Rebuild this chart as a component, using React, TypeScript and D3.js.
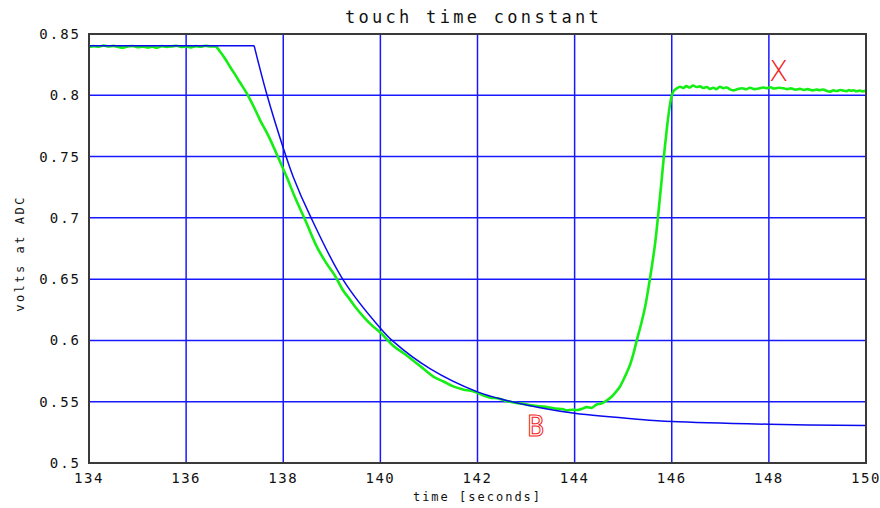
import React from 'react';
import * as d3 from 'd3';

// tick values / labels
const xTicks = [134, 136, 138, 140, 142, 144, 146, 148, 150];
const yTicks = [0.5, 0.55, 0.6, 0.65, 0.7, 0.75, 0.8, 0.85];
const yTickLabels = ['0.5', '0.55', '0.6', '0.65', '0.7', '0.75', '0.8', '0.85'];

const measTime = [
  134.0, 134.1, 134.2, 134.3, 134.4, 134.5, 134.6, 134.7, 134.8, 134.9, 135.0, 135.1,
  135.2, 135.3, 135.4, 135.5, 135.6, 135.7, 135.8, 135.9, 136.0, 136.1, 136.2, 136.3,
  136.4, 136.5, 136.6, 136.7, 136.8, 136.9, 137.0, 137.1, 137.25, 137.4, 137.52, 137.7,
  137.86, 138.07, 138.25, 138.45, 138.69, 138.88, 139.07, 139.22, 139.37, 139.5, 139.65,
  139.82, 140.0, 140.27, 140.48, 140.68, 140.9, 141.09, 141.3, 141.5, 141.7, 141.91, 142.1,
  142.25, 142.45, 142.6, 142.8, 142.95, 143.1, 143.29, 143.45, 143.6, 143.75, 143.84, 143.95,
  144.05, 144.15, 144.25, 144.35, 144.45, 144.55, 144.66, 144.76, 144.85, 144.93, 145.0,
  145.07, 145.14, 145.21, 145.28, 145.36, 145.45, 145.5, 145.55, 145.6, 145.66, 145.72,
  145.79, 145.84, 145.9, 145.97, 146.03, 146.1, 146.17, 146.24, 146.3, 146.37, 146.44,
  146.51, 146.58, 146.65, 146.72, 146.79, 146.85, 146.92, 146.99, 147.06, 147.13, 147.2,
  147.27, 147.36, 147.45, 147.53, 147.61, 147.7, 147.8, 147.88, 147.95, 148.03, 148.1,
  148.2, 148.3, 148.38, 148.45, 148.55, 148.64, 148.72, 148.8, 148.9, 148.98, 149.05,
  149.12, 149.19, 149.26, 149.33, 149.4, 149.47, 149.53, 149.6, 149.65, 149.7, 149.74,
  149.8, 149.87, 149.93, 150.0,
];
const measVolts = [
  0.8393, 0.8401, 0.8396, 0.8406, 0.8398, 0.8403, 0.8395, 0.8389, 0.8399, 0.8402, 0.8392, 0.8397,
  0.8390, 0.8396, 0.8388, 0.8401, 0.8395, 0.8399, 0.8404, 0.8394, 0.8398, 0.8391, 0.8401, 0.8396,
  0.8404, 0.8398, 0.8399, 0.8355, 0.830, 0.8235, 0.8175, 0.811, 0.8015, 0.790, 0.780, 0.7665,
  0.7525, 0.7335, 0.716, 0.6985, 0.6765, 0.6635, 0.6525, 0.6415, 0.6335, 0.6265, 0.6195,
  0.6125, 0.6065, 0.5955, 0.5895, 0.5835, 0.5765, 0.5705, 0.5665, 0.5625, 0.5600, 0.5585, 0.5555,
  0.5535, 0.5525, 0.5505, 0.5490, 0.5482, 0.5470, 0.5462, 0.5455, 0.5445, 0.5440, 0.5430, 0.5435,
  0.5432, 0.5442, 0.5456, 0.5450, 0.5478, 0.5485, 0.5510, 0.5540, 0.5580, 0.5620, 0.5675,
  0.5735, 0.5800, 0.5890, 0.6000, 0.6120, 0.6270, 0.6380, 0.6500, 0.6630, 0.6800, 0.7020,
  0.7300, 0.7510, 0.7730, 0.7940, 0.8030, 0.8055, 0.8070, 0.8060, 0.8075, 0.8063, 0.8080,
  0.8068, 0.8073, 0.8060, 0.8068, 0.8052, 0.8062, 0.8050, 0.8070, 0.8058, 0.8064, 0.8048,
  0.8040, 0.8052, 0.8058, 0.8049, 0.8062, 0.8050, 0.8056, 0.8064, 0.8058, 0.8066, 0.8055,
  0.8061, 0.8058, 0.8050, 0.8056, 0.8046, 0.8052, 0.8044, 0.8050, 0.8040, 0.8046, 0.8042,
  0.8047, 0.8036, 0.8030, 0.8040, 0.8035, 0.8043, 0.8038, 0.8034, 0.8042, 0.8037, 0.8041,
  0.8033, 0.8038, 0.8032, 0.8036,
];

// fitted model (blue): flat part, then decay
const modelFlatTime = [134, 137.4];
const modelFlatVolts = [0.8405, 0.8405];
const modelDecayTime = [137.4, 137.66, 138.0, 138.21, 138.55, 139.24, 140.0, 140.27, 141.02, 142.0, 142.6, 143.29, 144.0, 145.35, 146.0, 148.0, 150.0];
const modelDecayVolts = [0.8405, 0.801, 0.757, 0.733, 0.702, 0.649, 0.610, 0.599, 0.577, 0.558, 0.551, 0.545, 0.5405, 0.5355, 0.5338, 0.5316, 0.5305];

// text marks on the plot
const marks = ['B', 'X'];
const markTime = [143.2, 148.2];
const markVolts = [0.53, 0.82];

const W = 880;
const H = 508;
const margin = { top: 34, right: 14, bottom: 45, left: 89 };
const mono = '"DejaVu Sans Mono", monospace';

export default function App() {
  const x = d3.scaleLinear().domain([134, 150]).range([margin.left, W - margin.right]);
  const y = d3.scaleLinear().domain([0.5, 0.85]).range([H - margin.bottom, margin.top]);

  const pts = (t: number[], v: number[]) => t.map((d, i) => [d, v[i]] as [number, number]);
  const lin = d3.line<[number, number]>().x(d => x(d[0])).y(d => y(d[1]));
  const smooth = d3.line<[number, number]>().x(d => x(d[0])).y(d => y(d[1])).curve(d3.curveCatmullRom.alpha(0.5));
  const wiggly = d3.line<[number, number]>().x(d => x(d[0])).y(d => y(d[1])).curve(d3.curveMonotoneX);

  const x0 = margin.left, x1 = W - margin.right, y0 = margin.top, y1 = H - margin.bottom;
  const grid = '#1818ff';

  return (
    <div style={{ position: 'fixed', left: 0, top: 0 }}>
      <svg width={W} height={H} style={{ display: 'block', background: '#fff' }}>
        <defs>
          <clipPath id="plot">
            <rect x={x0} y={y0} width={x1 - x0} height={y1 - y0} />
          </clipPath>
        </defs>

        {/* grid */}
        {xTicks.map(t => (
          <line key={'gx' + t} x1={x(t)} x2={x(t)} y1={y0} y2={y1} stroke={grid} strokeWidth={1.5} />
        ))}
        {yTicks.map(v => (
          <line key={'gy' + v} x1={x0} x2={x1} y1={y(v)} y2={y(v)} stroke={grid} strokeWidth={1.5} />
        ))}

        {/* data */}
        <g clipPath="url(#plot)">
          <path d={wiggly(pts(measTime, measVolts)) || ''} fill="none" stroke="#14ee14" strokeWidth={2.6} strokeLinejoin="round" />
          <path d={lin(pts(modelFlatTime, modelFlatVolts)) || ''} fill="none" stroke="#0a0aee" strokeWidth={1.5} />
          <path d={smooth(pts(modelDecayTime, modelDecayVolts)) || ''} fill="none" stroke="#0a0aee" strokeWidth={1.5} />
        </g>

        {/* frame */}
        <rect x={x0} y={y0} width={x1 - x0} height={y1 - y0} fill="none" stroke="#3a3a3a" strokeWidth={2} />

        {/* tick labels */}
        {xTicks.map(t => (
          <text key={'tx' + t} x={x(t)} y={y1 + 20} textAnchor="middle" fontFamily={mono} fontSize={14} letterSpacing={1.5} fill="#111">
            {t}
          </text>
        ))}
        {yTicks.map((v, i) => (
          <text key={'ty' + v} x={x0 - 8} y={y(v) + 5} textAnchor="end" fontFamily={mono} fontSize={14} letterSpacing={2} fill="#111">
            {yTickLabels[i]}
          </text>
        ))}

        {/* titles */}
        <text x={(x0 + x1) / 2 - 4} y={23} textAnchor="middle" fontFamily={mono} fontSize={17} letterSpacing={3.3} fill="#111">
          touch time constant
        </text>
        <text x={(x0 + x1) / 2} y={501} textAnchor="middle" fontFamily={mono} fontSize={12} letterSpacing={2} fill="#111">
          time [seconds]
        </text>
        <text transform={`translate(24,${(y0 + y1) / 2 + 5}) rotate(-90)`} textAnchor="middle" fontFamily={mono} fontSize={12} letterSpacing={2.5} fill="#111">
          volts at ADC
        </text>

        {/* marks */}
        {marks.map((m, i) => (
          <text key={m} x={x(markTime[i])} y={y(markVolts[i]) + 10} textAnchor="middle"
            fontFamily={m === 'B' ? mono : '"DejaVu Sans", sans-serif'} fontWeight={m === 'B' ? 400 : 200} fontSize={28}
            fill={m === 'B' ? 'none' : '#f21a1a'} stroke={m === 'B' ? '#f21a1a' : 'none'} strokeWidth={1}>
            {m}
          </text>
        ))}
      </svg>
    </div>
  );
}
